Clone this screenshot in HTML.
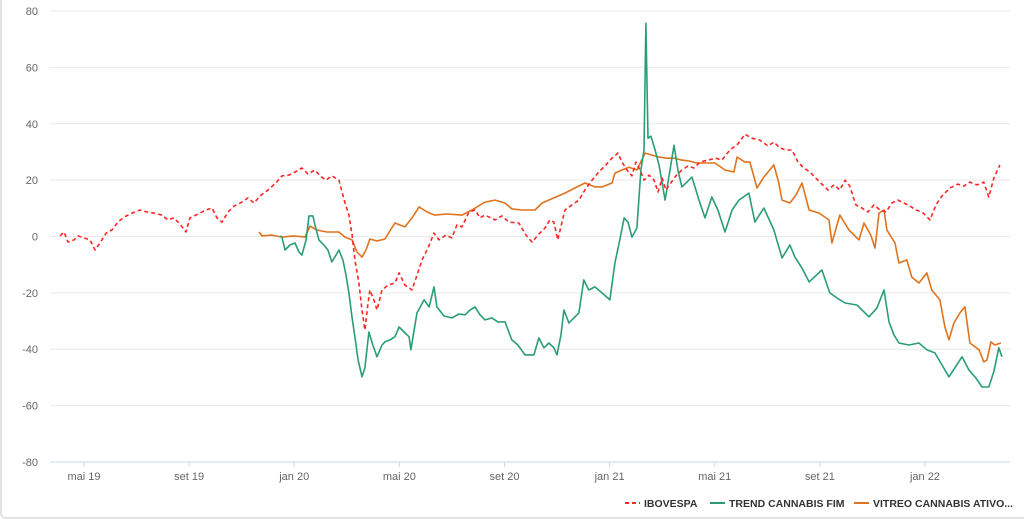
<!DOCTYPE html>
<html><head><meta charset="utf-8"><style>
html,body{margin:0;padding:0;background:#fff;}
body{width:1024px;height:519px;overflow:hidden;font-family:"Liberation Sans",sans-serif;}
#card{position:absolute;left:0;top:0;width:1024px;height:519px;border-left:2px solid #e2e2e2;border-bottom:2px solid #e2e2e2;border-bottom-left-radius:6px;box-sizing:border-box;}
</style></head><body>
<div id="card">
<svg id="chart" width="1024" height="519" style="position:absolute;left:0;top:0"></svg>
</div>
<script>
const yTicks=[80,60,40,20,0,-20,-40,-60,-80];
const xTickMonths=[4,8,12,16,20,24,28,32,36];
const xTickLabels=["mai 19","set 19","jan 20","mai 20","set 20","jan 21","mai 21","set 21","jan 22"];
const seriesNames=["IBOVESPA","TREND CANNABIS FIM","VITREO CANNABIS ATIVO..."];
const iboT=[3.09,3.24,3.39,3.62,3.77,4.00,4.23,4.42,4.61,4.84,5.06,5.29,5.52,5.83,6.13,6.40,6.66,6.97,7.19,7.42,7.65,7.88,8.03,8.34,8.64,8.87,9.06,9.25,9.48,9.71,10.01,10.24,10.47,10.70,11.00,11.30,11.53,11.80,12.03,12.29,12.52,12.79,12.98,13.21,13.43,13.70,13.93,14.08,14.20,14.31,14.46,14.58,14.69,14.80,14.88,15.03,15.15,15.34,15.57,15.83,15.99,16.21,16.48,16.67,16.86,17.09,17.32,17.51,17.77,18.00,18.19,18.38,18.65,18.88,19.07,19.26,19.64,19.90,20.17,20.55,20.82,21.05,21.31,21.54,21.73,21.88,22.03,22.30,22.57,22.83,23.06,23.33,23.59,23.86,24.09,24.32,24.47,24.66,24.85,25.00,25.16,25.31,25.50,25.69,25.84,26.00,26.14,26.30,26.52,26.75,26.98,27.21,27.44,27.74,28.04,28.27,28.58,28.88,29.15,29.41,29.72,30.03,30.25,30.48,30.71,30.94,31.17,31.39,31.62,31.85,32.08,32.31,32.54,32.76,32.96,33.14,33.37,33.60,33.83,34.06,34.29,34.52,34.74,34.97,35.20,35.43,35.66,35.89,36.19,36.42,36.65,36.95,37.25,37.48,37.71,37.98,38.24,38.43,38.62,38.85];
const iboV=[0.2,1.6,-2.0,-1.2,0.2,-0.5,-1.2,-4.8,-2.3,1.2,2.3,5.1,6.9,8.3,9.4,8.7,8.3,7.6,5.9,6.6,4.4,1.6,6.6,8.0,9.4,10.1,6.6,5.1,8.7,10.8,12.2,13.7,11.9,14.4,16.5,19.0,21.5,21.8,22.9,24.3,22.2,23.6,21.5,20.0,21.5,20.0,11.9,7.6,0.5,-8.3,-16.5,-26.1,-33.2,-24.3,-19.0,-22.5,-26.1,-19.0,-17.2,-16.5,-12.9,-17.2,-19.0,-13.7,-8.3,-4.1,1.2,-1.2,0.5,-0.5,4.1,3.4,8.7,9.4,6.6,7.6,5.9,7.3,5.1,4.8,0.5,-2.0,0.9,3.0,5.9,5.1,-1.2,9.4,11.2,12.9,16.5,20.0,22.9,25.4,27.8,29.6,26.4,23.6,21.5,26.4,23.6,20.0,21.8,20.0,15.8,20.7,16.5,18.6,21.5,23.6,25.0,24.3,26.4,27.1,27.8,27.1,30.7,32.8,36.3,34.9,34.2,32.1,33.5,31.4,30.7,30.7,26.4,24.3,22.9,20.7,18.6,16.5,18.3,16.5,20.0,17.9,11.2,10.1,8.7,11.2,9.4,8.7,11.9,12.9,11.9,10.8,9.4,8.7,5.9,11.2,14.4,17.2,18.6,17.9,19.3,18.3,19.3,14.0,20.7,25.4];
const trendT=[11.46,11.53,11.65,11.84,12.03,12.18,12.29,12.45,12.56,12.71,12.79,12.94,13.13,13.28,13.43,13.59,13.70,13.85,13.97,14.08,14.20,14.31,14.43,14.58,14.69,14.84,14.99,15.15,15.34,15.45,15.64,15.83,15.99,16.18,16.37,16.44,16.56,16.67,16.94,17.13,17.32,17.43,17.70,18.00,18.27,18.50,18.69,18.88,19.07,19.26,19.52,19.75,20.02,20.28,20.51,20.78,21.12,21.31,21.50,21.69,21.88,22.00,22.15,22.26,22.45,22.64,22.83,23.02,23.21,23.44,23.71,24.01,24.20,24.39,24.55,24.70,24.85,25.04,25.19,25.31,25.38,25.46,25.57,25.73,25.88,26.11,26.30,26.45,26.60,26.75,26.94,27.13,27.40,27.63,27.89,28.12,28.39,28.66,28.92,29.30,29.53,29.87,30.25,30.56,30.86,31.05,31.32,31.59,32.08,32.38,32.65,32.96,33.41,33.87,34.17,34.44,34.63,34.82,35.01,35.39,35.77,36.07,36.38,36.65,36.91,37.14,37.41,37.67,37.94,38.17,38.43,38.62,38.81,38.93];
const trendV=[0.2,-0.2,-4.8,-3.0,-2.3,-5.5,-6.6,-1.2,7.3,7.3,4.1,-1.2,-3.0,-4.8,-9.0,-6.6,-4.8,-8.3,-13.7,-20.0,-28.9,-35.6,-43.8,-49.8,-46.6,-33.9,-38.5,-42.7,-38.5,-37.4,-36.7,-35.6,-32.1,-33.9,-35.6,-40.2,-33.2,-27.1,-22.5,-25.0,-17.9,-25.0,-28.2,-28.9,-27.5,-27.8,-26.1,-25.0,-27.8,-29.6,-28.9,-30.3,-30.3,-36.7,-38.5,-42.0,-42.0,-36.0,-39.5,-37.8,-39.5,-42.0,-34.9,-26.1,-30.7,-28.9,-27.1,-15.4,-19.0,-17.9,-20.0,-22.5,-9.4,-1.2,6.6,5.1,-0.2,3.0,23.6,30.7,75.7,34.9,35.6,30.7,25.4,12.9,23.6,32.4,23.6,17.6,19.3,21.1,12.9,6.6,14.0,9.4,1.6,9.4,12.9,15.4,5.1,10.1,2.3,-7.6,-3.0,-7.3,-11.2,-16.1,-11.9,-20.0,-21.8,-23.6,-24.3,-28.5,-25.4,-19.0,-30.3,-34.9,-37.8,-38.5,-37.8,-40.2,-41.3,-45.6,-49.8,-46.6,-42.7,-47.3,-50.2,-53.4,-53.4,-48.0,-39.5,-42.7];
const vitT=[10.66,10.77,11.15,11.53,11.99,12.41,12.60,12.87,13.24,13.70,13.93,14.20,14.39,14.58,14.73,14.88,15.15,15.45,15.83,16.21,16.48,16.75,17.05,17.35,17.81,18.38,18.76,19.26,19.64,20.02,20.28,20.66,21.16,21.43,21.88,22.30,22.68,23.06,23.44,23.71,24.09,24.20,24.47,24.74,25.04,25.35,25.61,25.88,26.18,26.45,26.75,27.02,27.32,27.63,28.01,28.39,28.73,28.85,29.15,29.34,29.61,29.87,30.25,30.44,30.56,30.86,31.09,31.32,31.59,31.97,32.35,32.46,32.76,33.11,33.49,33.68,33.94,34.10,34.25,34.44,34.55,34.86,35.01,35.31,35.50,35.77,36.07,36.26,36.57,36.76,36.91,37.10,37.33,37.52,37.71,38.06,38.24,38.36,38.51,38.66,38.89];
const vitV=[1.6,0.2,0.5,-0.2,0.2,-0.2,3.7,2.3,1.6,1.6,-0.2,-1.2,-5.5,-7.3,-4.8,-0.9,-1.6,-0.9,4.8,3.4,6.6,10.5,8.7,7.6,8.0,7.6,9.4,12.2,12.9,11.9,9.8,9.4,9.4,11.9,13.7,15.4,17.2,19.0,17.6,17.6,19.0,22.5,23.6,24.6,23.6,29.6,28.9,28.2,27.8,27.8,27.1,26.8,26.1,26.1,26.1,23.6,22.9,28.2,26.4,26.4,17.2,21.1,25.4,19.0,12.9,11.9,14.7,19.0,9.4,8.3,5.9,-2.3,7.6,2.3,-1.2,4.8,0.5,-4.1,8.3,9.4,2.3,-2.3,-9.4,-8.3,-14.4,-16.5,-12.9,-19.0,-22.5,-32.1,-36.7,-30.7,-27.1,-25.0,-37.8,-40.2,-44.5,-43.8,-37.4,-38.5,-37.8];

const NS='http://www.w3.org/2000/svg';
const svg=document.getElementById('chart');
const PL=48,PR=1008;
function xs(m){return 82+(m-4)*26.28;}
function ys(v){return 236.5-v*2.818;}
function mk(tag,attrs,parent){const e=document.createElementNS(NS,tag);for(const k in attrs)e.setAttribute(k,attrs[k]);(parent||svg).appendChild(e);return e;}

yTicks.forEach(function(t){
  const y=ys(t);
  if(t!==-80){
    const g=mk('line',{x1:PL,x2:PR,y1:y,y2:y,stroke:'#e9e9e9','stroke-width':1});
    
    
  }
  const tx=mk('text',{x:36,y:y+4,'text-anchor':'end','font-size':11,fill:'#666'});
  tx.textContent=String(t);
  
  
});
const ax=mk('line',{x1:PL,x2:PR,y1:ys(-80),y2:ys(-80),stroke:'#ccd6eb','stroke-width':1});


xTickMonths.forEach(function(m,i){
  const x=xs(m);
  const tk=mk('line',{x1:x,x2:x,y1:ys(-80),y2:ys(-80)+5,stroke:'#ccd6eb','stroke-width':1});
  
  
  const tx=mk('text',{x:x,y:480,'text-anchor':'middle','font-size':11,fill:'#666'});
  tx.textContent=xTickLabels[i];
  
  
});
function line(T,V,color,dash,name){
  let d='';
  for(let i=0;i<T.length;i++){d+=(i?'L':'M')+xs(T[i]).toFixed(1)+','+ys(V[i]).toFixed(1);}
  const p=mk('path',{d:d,fill:'none',stroke:color,'stroke-width':1.6,'stroke-linejoin':'round'});
  if(dash)p.setAttribute('stroke-dasharray',dash);
  
  
}
line(vitT,vitV,'#e0731e',null,'series-vitreo-cannabis');
line(trendT,trendV,'#2a9d78',null,'series-trend-cannabis');
line(iboT,iboV,'#ff2525','4,3','series-ibovespa');

const legendX=[623,708,852];
const legendColors=['#ff2525','#2a9d78','#e0731e'];
seriesNames.forEach(function(n,i){
  const g=mk('g',{});
  
  
  const l=mk('line',{x1:legendX[i],x2:legendX[i]+15,y1:503,y2:503,stroke:legendColors[i],'stroke-width':2},g);
  if(i===0)l.setAttribute('stroke-dasharray','4,3');
  const t=mk('text',{x:legendX[i]+19,y:507,'font-size':10.5,'font-weight':'bold',fill:'#333'},g);
  t.textContent=n;
});
</script>
</body></html>
